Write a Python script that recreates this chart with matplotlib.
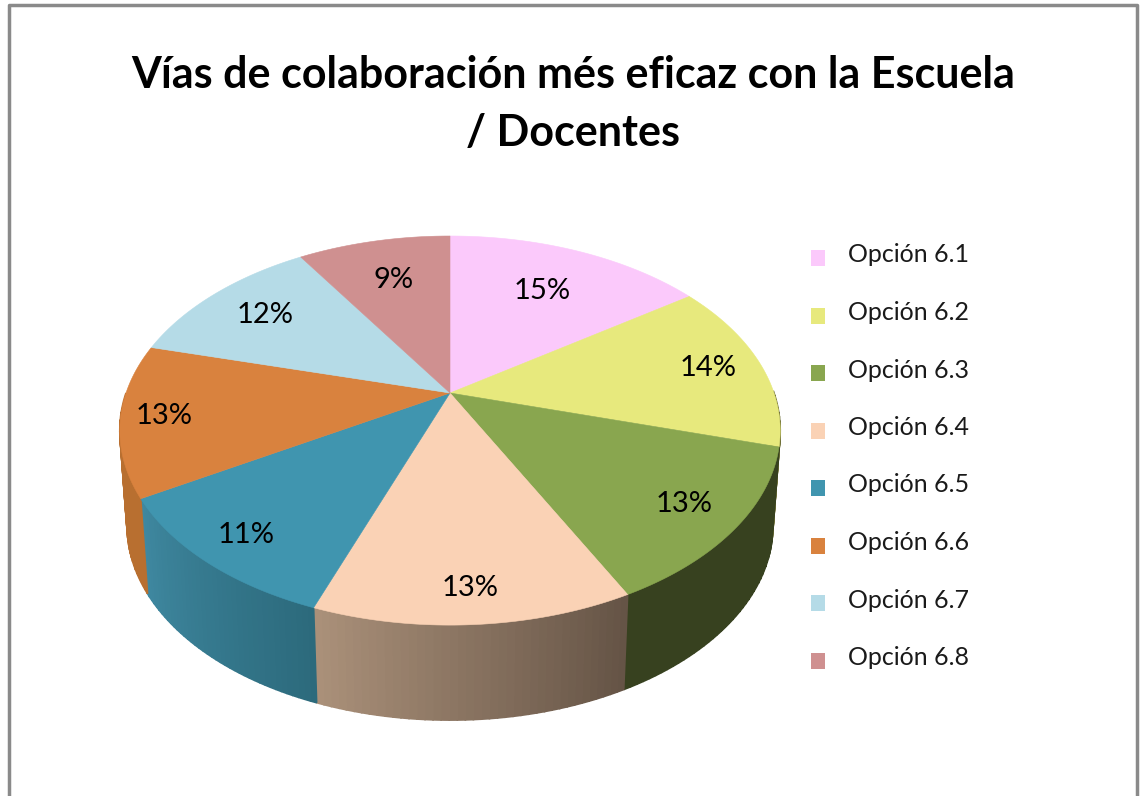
import numpy as np
import matplotlib
matplotlib.use("Agg")
import matplotlib.pyplot as plt
from matplotlib.patches import Polygon, Rectangle

categorias = ["Opción 6.1", "Opción 6.2", "Opción 6.3", "Opción 6.4",
              "Opción 6.5", "Opción 6.6", "Opción 6.7", "Opción 6.8"]
valores = [15.3, 14.1, 13.1, 13.1, 10.9, 12.6, 11.9, 9.0]
colores = ["#fbc9fb", "#e7e97d", "#89a64f", "#fad2b5",
           "#4095af", "#d9823e", "#b5dbe7", "#cf9090"]

# colour of the side wall at the start / end of every slice
lado_ini = ["#b893b8", "#5e6030", "#37411f", "#645345",
            "#2c6a7c", "#b86f30", "#7f9aa3", "#916565"]
lado_fin = ["#b893b8", "#6f7036", "#37411f", "#ab917a",
            "#3f88a0", "#b86f30", "#7f9aa3", "#916565"]

titulo = "Vías de colaboración més eficaz con la Escuela\n/ Docentes"

# distance of each percent label from the centre (fraction of the radius)
radio_etiq = [0.69, 0.83, 0.84, 0.87, 0.86, 0.87, 0.77, 0.71]

# perspective of the disc, in image pixels
cx, cy = 450, 393
rx, ry = 324, 187.3
k = 0.193
alto = 95


def proyecta(u, v):
    d = 1 + k * v
    return cx + rx * u / d, cy - ry * v / d


def arco(a0, a1, n=60):
    t = np.radians(np.linspace(a0, a1, n))
    return proyecta(np.sin(t), np.cos(t))


fig = plt.figure(figsize=(11.4, 7.96), dpi=100)
ax = fig.add_axes([0, 0, 1, 1])
ax.set_xlim(0, 1140)
ax.set_ylim(796, 0)
ax.axis("off")

# frame of the chart area (open at the bottom)
ax.plot([9, 9, 1137, 1137], [796, 5, 5, 796], color="#8a8a8a", lw=2.5)

cum = np.cumsum([0] + valores) / sum(valores) * 360

# side wall first, only the part that faces the viewer
for i in range(len(valores)):
    ini = np.array(matplotlib.colors.to_rgb(lado_ini[i]))
    fin = np.array(matplotlib.colors.to_rgb(lado_fin[i]))
    bordes = np.linspace(cum[i], cum[i + 1], 41)
    for j in range(40):
        if np.cos(np.radians(bordes[j])) > 0 and np.cos(np.radians(bordes[j + 1])) > 0:
            continue
        x, y = arco(bordes[j], bordes[j + 1], 4)
        xb = cx + (x - cx) * 0.978
        yb = y + alto
        pts = np.r_[np.c_[x, y], np.c_[xb, yb][::-1]]
        c = ini + (fin - ini) * (j + 0.5) / 40
        ax.add_patch(Polygon(pts, closed=True, fc=c, ec=c, lw=1.2, zorder=1))

# top of the pie
for i in range(len(valores)):
    x, y = arco(cum[i], cum[i + 1])
    pts = np.r_[[[cx, cy]], np.c_[x, y]]
    ax.add_patch(Polygon(pts, closed=True, fc=colores[i], ec=colores[i], lw=0.4, zorder=2))

fuente = ["Lato", "DejaVu Sans"]

for i, v in enumerate(valores):
    t = np.radians((cum[i] + cum[i + 1]) / 2)
    x, y = proyecta(radio_etiq[i] * np.sin(t), radio_etiq[i] * np.cos(t))
    ax.text(x, y, f"{v:.0f}%", ha="center", va="center", fontsize=21,
            color="black", family=fuente, zorder=3)

ax.text(573, 104, titulo, ha="center", va="center", fontsize=31, fontweight="bold",
        color="black", family=fuente, linespacing=1.55)

# legend
for i, nombre in enumerate(categorias):
    y = 258 + i * 57.5
    ax.add_patch(Rectangle((811, y - 8), 14, 16, fc=colores[i], ec="none"))
    ax.text(848, y - 3, nombre, ha="left", va="center", fontsize=18,
            color="#1a1a1a", family=fuente)

fig.savefig("out.png", dpi=100)
